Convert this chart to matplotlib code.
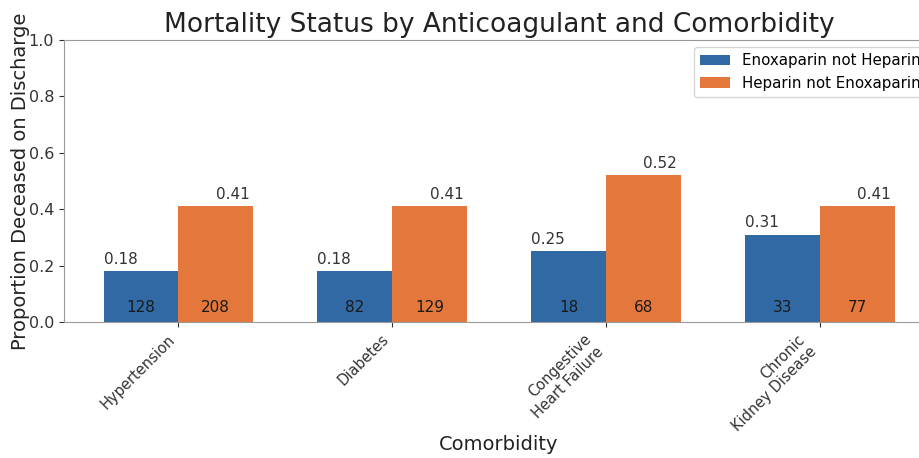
import matplotlib
matplotlib.use("Agg")
import matplotlib.pyplot as plt
import numpy as np

# Data
comorbidities = ["Hypertension", "Diabetes", "Congestive\nHeart Failure", "Chronic\nKidney Disease"]
enox_prop = [0.18, 0.18, 0.25, 0.31]
hep_prop = [0.41, 0.41, 0.52, 0.41]
enox_n = [128, 82, 18, 33]
hep_n = [208, 129, 68, 77]

blue = "#3169a5"
orange = "#e4783c"
width = 0.35

fig = plt.figure(figsize=(9.19, 4.58), dpi=100)
# axes runs past the right edge, as in the (cropped) reference
ax = fig.add_axes([0.0696, 0.297, 0.947, 0.616])

x = np.arange(len(comorbidities))
ax.bar(x - width / 2, enox_prop, width, color=blue, label="Enoxaparin not Heparin")
ax.bar(x + width / 2, hep_prop, width, color=orange, label="Heparin not Enoxaparin")

# proportion labels above the bars
for i in range(len(x)):
    ax.text(x[i] - width, enox_prop[i] + 0.015, f"{enox_prop[i]:.2f}",
            ha="left", va="bottom", fontsize=11, color="#333333")
    ax.text(x[i] + width / 2, hep_prop[i] + 0.015, f"{hep_prop[i]:.2f}",
            ha="left", va="bottom", fontsize=11, color="#333333")
    # counts inside the bars
    ax.text(x[i] - width / 2, 0.05, str(enox_n[i]), ha="center", va="center",
            fontsize=11, color="#1a1a1a")
    ax.text(x[i] + width / 2, 0.05, str(hep_n[i]), ha="center", va="center",
            fontsize=11, color="#1a1a1a")

ax.set_ylim(0, 1.0)
ax.set_xticks(x)
ax.set_xticklabels(comorbidities, rotation=45, ha="right", fontsize=10.5)
ax.tick_params(axis="y", labelsize=11.5, colors="#333333")
ax.tick_params(axis="x", colors="#333333")
for s in ax.spines.values():
    s.set_color("#999999")

ax.set_title("Mortality Status by Anticoagulant and Comorbidity", fontsize=19, color="#222222")
ax.set_ylabel("Proportion Deceased on Discharge", fontsize=14, color="#222222", va="center")
ax.yaxis.set_label_coords(-0.05, 0.5)
ax.set_xlabel("Comorbidity", fontsize=14, color="#222222", va="center")
ax.xaxis.set_label_coords(0.5, -0.436)
ax.legend(loc="upper right", fontsize=10.8)

fig.savefig("out.png", dpi=100)
